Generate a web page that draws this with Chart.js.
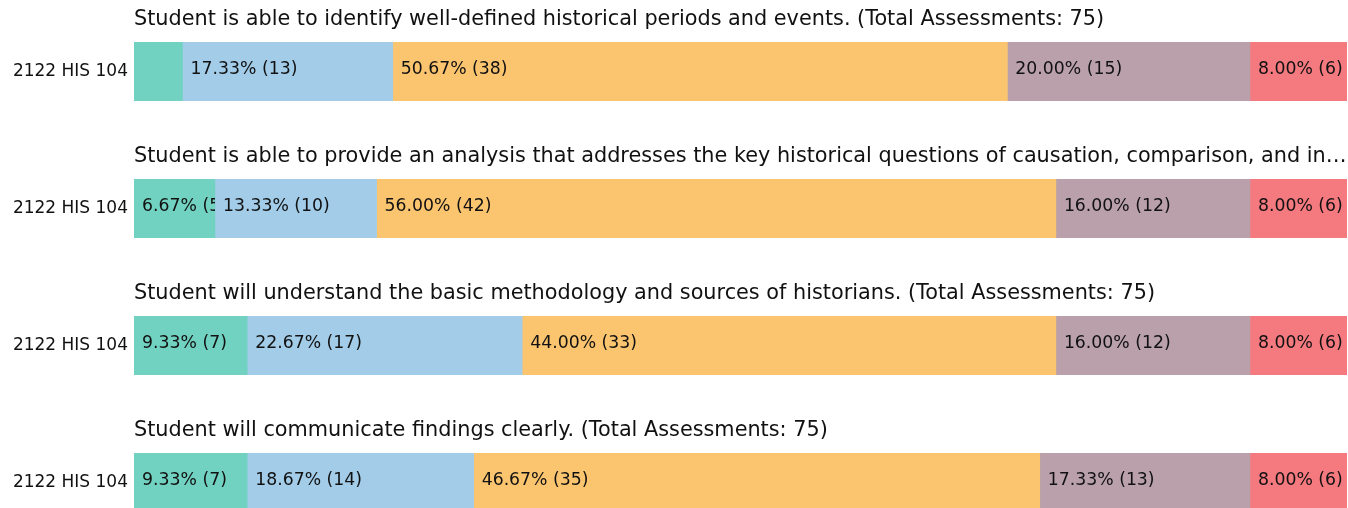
<!DOCTYPE html>
<html>
<head>
<meta charset="utf-8">
<script src="https://cdn.jsdelivr.net/npm/chart.js@4.4.1/dist/chart.umd.min.js"></script>
<style>
  html, body { margin: 0; padding: 0; background: #fff; overflow: hidden; }
  canvas { display: block; }
</style>
</head>
<body>
<canvas id="c0" width="1348" height="137"></canvas>
<canvas id="c1" width="1348" height="137"></canvas>
<canvas id="c2" width="1348" height="137"></canvas>
<canvas id="c3" width="1348" height="137"></canvas>
<script>
// one outcome per chart, one course per row
const courses = ["2122 HIS 104"];
const outcomeTitles = [
  "Student is able to identify well-defined historical periods and events. (Total Assessments: 75)",
  "Student is able to provide an analysis that addresses the key historical questions of causation, comparison, and in\u2026",
  "Student will understand the basic methodology and sources of historians. (Total Assessments: 75)",
  "Student will communicate findings clearly. (Total Assessments: 75)"
];

// percent of assessments per level, one value per outcome
const level1Pct = [4.00, 6.67, 9.33, 9.33];
const level2Pct = [17.33, 13.33, 22.67, 18.67];
const level3Pct = [50.67, 56.00, 44.00, 46.67];
const level4Pct = [20.00, 16.00, 16.00, 17.33];
const level5Pct = [8.00, 8.00, 8.00, 8.00];

// counts per level
const level1Cnt = [3, 5, 7, 7];
const level2Cnt = [13, 10, 17, 14];
const level3Cnt = [38, 42, 33, 35];
const level4Cnt = [15, 12, 12, 13];
const level5Cnt = [6, 6, 6, 6];

const levelPct = [level1Pct, level2Pct, level3Pct, level4Pct, level5Pct];
const levelCnt = [level1Cnt, level2Cnt, level3Cnt, level4Cnt, level5Cnt];
const levelColors = ["#72d2c2", "#a2cce8", "#fbc570", "#b9a0aa", "#f57a80"];

const FONT = "'DejaVu Sans', sans-serif";

// writes "xx.xx% (n)" inside each segment, clipped to it
const segmentLabels = {
  id: "segmentLabels",
  afterDatasetsDraw(chart) {
    const ctx = chart.ctx;
    chart.data.datasets.forEach((ds, i) => {
      const meta = chart.getDatasetMeta(i);
      meta.data.forEach((bar, j) => {
        const left = Math.min(bar.base, bar.x);
        const w = Math.abs(bar.x - bar.base);
        if (w < 60) return;
        const top = bar.y - bar.height / 2;
        ctx.save();
        ctx.beginPath();
        ctx.rect(left, top, w, bar.height);
        ctx.clip();
        ctx.fillStyle = "#111";
        ctx.font = "17.3px " + FONT;
        ctx.textAlign = "left";
        ctx.textBaseline = "middle";
        ctx.fillText(ds.data[j].toFixed(2) + "% (" + ds.counts[j] + ")", left + 8, bar.y - 1.5);
        ctx.restore();
      });
    });
  }
};

outcomeTitles.forEach((title, k) => {
  new Chart(document.getElementById("c" + k), {
    type: "bar",
    data: {
      labels: courses,
      datasets: levelPct.map((arr, i) => ({
        data: [arr[k]],
        counts: [levelCnt[i][k]],
        backgroundColor: levelColors[i],
        borderWidth: 0,
        barPercentage: 1,
        categoryPercentage: 1
      }))
    },
    options: {
      indexAxis: "y",
      responsive: false,
      animation: false,
      layout: { padding: { left: 0, right: 1, top: 0, bottom: 36 } },
      plugins: {
        legend: { display: false },
        tooltip: { enabled: false },
        title: {
          display: true,
          text: title,
          align: "start",
          fullSize: false,
          color: "#111",
          font: { family: FONT, size: 20.8, weight: "normal" },
          padding: { top: 7, bottom: 10 }
        }
      },
      scales: {
        x: { stacked: true, min: 0, max: 100, display: false },
        y: {
          stacked: true,
          grid: { display: false, drawTicks: false },
          border: { display: false },
          ticks: { color: "#111", font: { family: FONT, size: 17 }, padding: 6 },
          afterFit(scale) { scale.width = 134; }
        }
      }
    },
    plugins: [segmentLabels]
  });
});
</script>
</body>
</html>
